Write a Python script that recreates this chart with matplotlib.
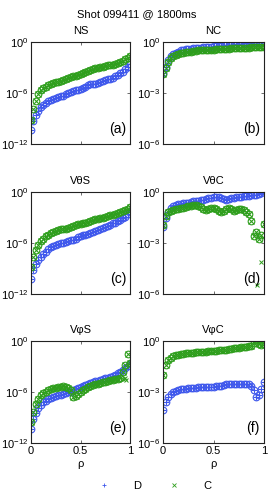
import numpy as np
import matplotlib
matplotlib.use("Agg")
import matplotlib.pyplot as plt
from matplotlib.lines import Line2D

plt.rcParams['font.family'] = ['Liberation Sans', 'DejaVu Sans']
plt.rcParams['mathtext.default'] = 'regular'

# radial grid
rho = [0.0, 0.025, 0.05, 0.075, 0.1, 0.125, 0.15, 0.175, 0.2, 0.225,
       0.25, 0.275, 0.3, 0.325, 0.35, 0.375, 0.4, 0.425, 0.45, 0.475,
       0.5, 0.525, 0.55, 0.575, 0.6, 0.625, 0.65, 0.675, 0.7, 0.725,
       0.75, 0.775, 0.8, 0.825, 0.85, 0.875, 0.9, 0.925, 0.95, 0.975, 1.0]

# log10 of the values
ns_d = [-10.3, -9.3, -8.6, -8.1, -7.7, -7.4, -7.15, -7.0, -6.85, -6.7,
        -6.6, -6.5, -6.4, -6.3, -6.15, -6.0, -5.9, -5.8, -5.7, -5.6,
        -5.5, -5.4, -5.25, -5.1, -5.0, -4.95, -4.9, -4.8, -4.65, -4.55,
        -4.45, -4.35, -4.3, -4.2, -4.05, -3.9, -3.7, -3.5, -3.2, -2.9, -2.6]
ns_c = [-9.2, -7.9, -6.9, -6.1, -5.7, -5.45, -5.25, -5.1, -4.95, -4.85,
        -4.75, -4.65, -4.55, -4.45, -4.35, -4.2, -4.1, -4.05, -4.0, -3.9,
        -3.8, -3.65, -3.5, -3.4, -3.3, -3.2, -3.1, -3.05, -3.0, -2.95,
        -2.85, -2.75, -2.7, -2.65, -2.55, -2.45, -2.35, -2.2, -2.05, -1.85, -1.7]

nc_d = [-1.8, -1.45, -1.05, -0.85, -0.72, -0.63, -0.56, -0.5, -0.47, -0.44,
        -0.42, -0.4, -0.38, -0.36, -0.34, -0.33, -0.31, -0.3, -0.28, -0.27,
        -0.26, -0.24, -0.22, -0.21, -0.2, -0.18, -0.17, -0.15, -0.14, -0.13,
        -0.11, -0.1, -0.08, -0.07, -0.05, -0.04, -0.02, -0.01, 0.01, 0.03, 0.05]
nc_c = [-1.9, -1.55, -1.15, -0.95, -0.83, -0.75, -0.69, -0.65, -0.62, -0.6,
        -0.58, -0.56, -0.54, -0.52, -0.5, -0.49, -0.48, -0.47, -0.47, -0.46,
        -0.45, -0.44, -0.43, -0.42, -0.41, -0.4, -0.39, -0.38, -0.38, -0.37,
        -0.36, -0.35, -0.35, -0.34, -0.33, -0.32, -0.31, -0.3, -0.29, -0.28, -0.27]

vts_d = [-10.2, -9.2, -8.5, -8.0, -7.65, -7.35, -7.0, -6.7, -6.45, -6.3,
         -6.2, -6.1, -6.0, -5.95, -5.9, -5.8, -5.7, -5.6, -5.5, -5.35,
         -5.2, -5.1, -5.0, -4.9, -4.8, -4.7, -4.55, -4.45, -4.3, -4.2,
         -4.1, -3.95, -3.85, -3.7, -3.6, -3.45, -3.3, -3.1, -2.9, -2.6, -2.35]
vts_c = [-8.8, -7.6, -6.8, -6.2, -5.8, -5.5, -5.2, -5.0, -4.8, -4.7,
         -4.6, -4.5, -4.4, -4.35, -4.3, -4.2, -4.1, -4.0, -3.9, -3.8,
         -3.75, -3.7, -3.6, -3.5, -3.4, -3.3, -3.2, -3.15, -3.1, -3.0,
         -2.95, -2.85, -2.75, -2.7, -2.6, -2.5, -2.4, -2.25, -2.1, -1.95, -1.8]

vtc_d = [-2.05, -1.5, -1.15, -0.95, -0.85, -0.78, -0.73, -0.7, -0.67, -0.65,
         -0.62, -0.58, -0.55, -0.52, -0.5, -0.48, -0.45, -0.42, -0.38, -0.35,
         -0.32, -0.3, -0.3, -0.35, -0.42, -0.45, -0.42, -0.38, -0.35, -0.32,
         -0.3, -0.28, -0.26, -0.24, -0.22, -0.2, -0.18, -0.15, -0.1, -0.03, 0.05]
vtc_c = [-1.95, -1.4, -1.2, -1.1, -1.05, -1.0, -0.98, -0.96, -0.94, -0.9,
         -0.85, -0.8, -0.76, -0.75, -0.8, -0.9, -1.0, -1.05, -1.0, -0.95,
         -0.95, -1.0, -1.1, -1.15, -1.1, -1.0, -0.95, -1.0, -1.1, -1.05,
         -0.98, -1.0, -1.05, -1.15, -1.3, -1.7, -2.6, -2.35, -2.75, -2.5, -1.9]
vtc_c_xrho = [0.93, 0.97]
vtc_c_xval = [-5.45, -4.1]

vps_d = [-10.4, -9.2, -8.5, -7.9, -7.5, -7.2, -7.0, -6.85, -6.7, -6.55,
         -6.45, -6.35, -6.3, -6.2, -6.15, -6.05, -5.95, -5.8, -5.65, -5.5,
         -5.4, -5.3, -5.15, -5.0, -4.9, -4.8, -4.75, -4.7, -4.6, -4.5,
         -4.4, -4.3, -4.2, -4.1, -3.95, -3.8, -3.6, -3.4, -3.15, -2.9, -2.75]
vps_c = [-9.5, -8.3, -7.4, -6.8, -6.4, -6.15, -5.95, -5.8, -5.65, -5.55,
         -5.5, -5.45, -5.4, -5.35, -5.4, -5.55, -5.8, -6.6, -6.5, -6.2,
         -5.95, -5.75, -5.6, -5.45, -5.3, -5.2, -5.1, -5.0, -4.95, -4.85,
         -4.8, -4.7, -4.6, -4.55, -4.5, -4.45, -4.4, -3.6, -2.8, -1.5, -2.6]
vps_c_xrho = [0.93, 0.95, 0.96]
vps_c_xval = [-4.5, -4.4, -4.6]

vpc_d = [-4.05, -3.6, -3.3, -3.1, -3.0, -2.95, -2.9, -2.85, -2.82, -2.8,
         -2.78, -2.76, -2.75, -2.74, -2.72, -2.7, -2.7, -2.7, -2.7, -2.68,
         -2.68, -2.66, -2.65, -2.62, -2.58, -2.52, -2.5, -2.52, -2.55, -2.55,
         -2.55, -2.53, -2.52, -2.52, -2.55, -2.65, -2.9, -3.3, -3.2, -2.8, -2.4]
vpc_c = [-2.0, -1.4, -1.1, -0.98, -0.9, -0.85, -0.8, -0.77, -0.75, -0.73,
         -0.71, -0.69, -0.68, -0.67, -0.66, -0.65, -0.63, -0.62, -0.6, -0.59,
         -0.57, -0.56, -0.54, -0.53, -0.51, -0.5, -0.48, -0.46, -0.44, -0.42,
         -0.4, -0.38, -0.36, -0.34, -0.32, -0.28, -0.1, 0.05, -0.2, -0.25, -0.15]

titles = ['NS', 'NC', 'V\u03b8S', 'V\u03b8C', 'V\u03c6S', 'V\u03c6C']
letters = ['(a)', '(b)', '(c)', '(d)', '(e)', '(f)']
series = [(ns_d, ns_c), (nc_d, nc_c), (vts_d, vts_c),
          (vtc_d, vtc_c), (vps_d, vps_c), (vpc_d, vpc_c)]
extras = {3: (vtc_c_xrho, vtc_c_xval), 4: (vps_c_xrho, vps_c_xval)}

blue = '#3f58ec'
green = '#2e9e1c'
ms_o = 4.8
ms_x = 4.0

fig = plt.figure(figsize=(2.74, 4.96), dpi=100)
fig.text(0.5, 1 - 14 / 496, 'Shot 099411 @ 1800ms', fontsize=8,
         ha='center', va='center')

lefts = [31 / 274, 163 / 274]
widths = [99 / 274, 101 / 274]
bottoms = [1 - 144 / 496, 1 - 294 / 496, 1 - 443 / 496]
height = 102 / 496

r = np.array(rho)
for k in range(6):
    row, col = k // 2, k % 2
    ax = fig.add_axes([lefts[col], bottoms[row], widths[col], height])
    d, c = series[k]
    d = 10.0 ** np.array(d)
    c = 10.0 ** np.array(c)
    ax.plot(r, d, 'o', mfc='none', mec=blue, ms=ms_o, mew=0.8)
    ax.plot(r, d, '+', color=blue, ms=ms_x, mew=0.8)
    ax.plot(r, c, 'o', mfc='none', mec=green, ms=ms_o, mew=0.8)
    ax.plot(r, c, 'x', color=green, ms=ms_x, mew=0.8)
    if k in extras:
        xr, xv = extras[k]
        ax.plot(xr, 10.0 ** np.array(xv), 'x', color=green, ms=3.2, mew=0.7)
    ax.set_yscale('log')
    if col == 0:
        ax.set_ylim(1e-12, 1)
        ax.set_yticks([1e-12, 1e-6, 1])
        ax.set_yticklabels(['$10^{-12}$', '$10^{-6}$', '$10^{0}$'])
    else:
        ax.set_ylim(1e-6, 1)
        ax.set_yticks([1e-6, 1e-3, 1])
        ax.set_yticklabels(['$10^{-6}$', '$10^{-3}$', '$10^{0}$'])
    ax.minorticks_off()
    ax.set_xlim(0, 1)
    ax.set_xticks([0, 0.5, 1])
    if row == 2:
        ax.set_xticklabels(['0', '0.5', '1'])
        ax.set_xlabel('\u03c1', fontsize=8, labelpad=2)
    else:
        ax.set_xticklabels([])
    ax.tick_params(direction='in', top=True, right=True, length=2.5,
                   width=0.5, labelsize=8, pad=2, color='#333333')
    for s in ax.spines.values():
        s.set_color('#222222')
        s.set_linewidth(0.8)
    ax.set_title(titles[k], fontsize=8, pad=6)
    ax.text(0.96, 0.08, letters[k], transform=ax.transAxes,
            ha='right', va='bottom', fontsize=10)

handles = [Line2D([], [], ls='none', marker='+', color=blue, ms=3.5, mew=0.6),
           Line2D([], [], ls='none', marker='x', color=green, ms=3.0, mew=0.6)]
fig.legend(handles, ['D', 'C'], loc='lower center', ncol=2, frameon=False,
           bbox_to_anchor=(0.555, -0.01), fontsize=8, handletextpad=1.6,
           columnspacing=2.0)

fig.savefig('out.png', dpi=100)
